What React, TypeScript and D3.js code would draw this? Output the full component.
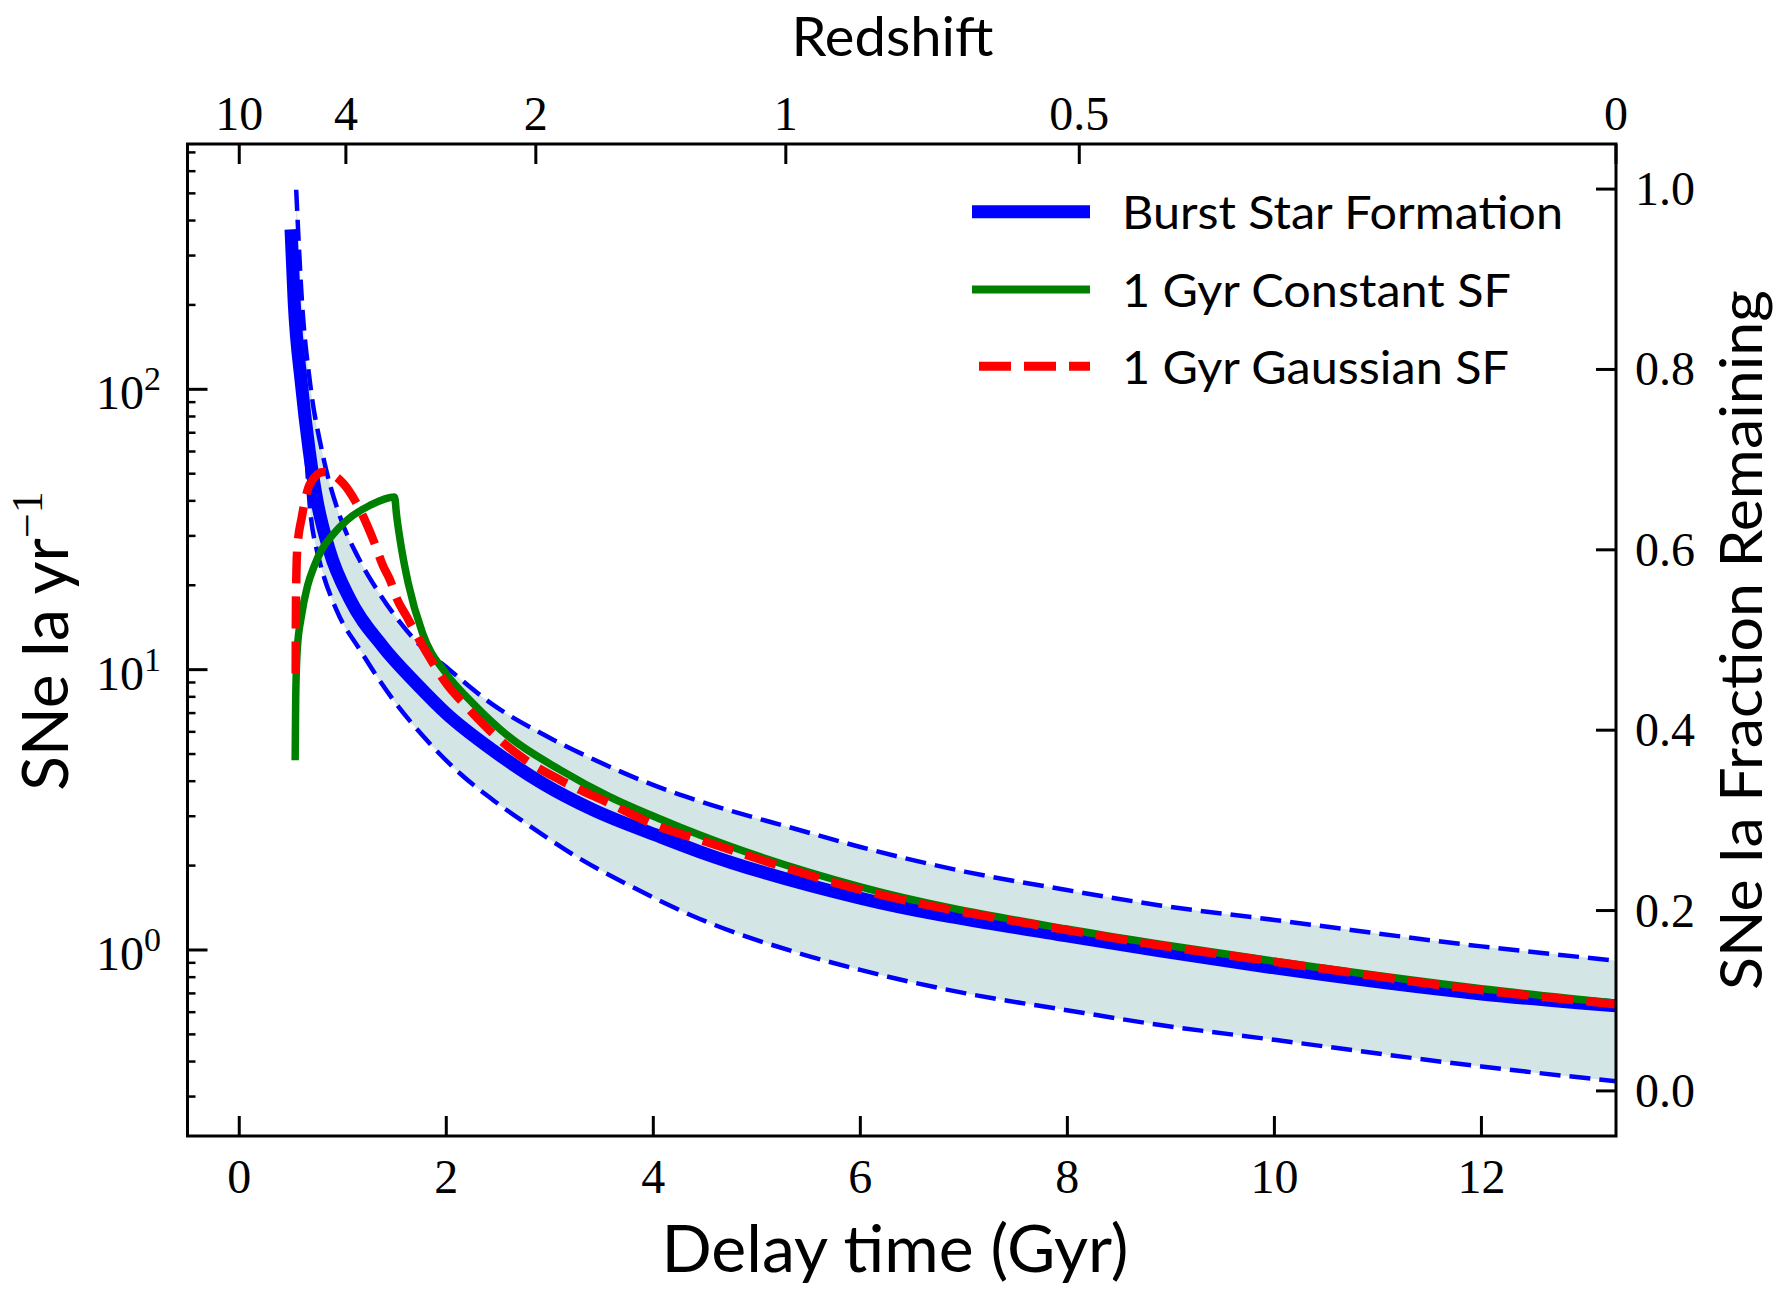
import * as d3 from "d3";

// ---- data ----
// delay time in Gyr, SNe Ia per year

const burstT = [0.5, 0.53, 0.6, 0.675, 0.75, 0.87, 1.07, 1.39, 1.71, 2.0, 2.45, 2.93, 3.42, 4.06, 4.45, 6.0, 7.98, 8.88, 10.0, 12.0, 13.3];
const burstRate = [372, 207, 105, 60.7, 40.2, 26.7, 17.8, 12.05, 8.93, 6.98, 5.16, 3.93, 3.16, 2.54, 2.24, 1.53, 1.125, 0.995, 0.863, 0.697, 0.632];

const upperT = [0.55, 0.605, 0.685, 0.797, 0.974, 1.15, 1.34, 1.55, 1.71, 2.03, 2.45, 2.93, 3.42, 4.06, 4.45, 5.41, 6.0, 7.02, 7.98, 8.88, 10.0, 12.0, 13.3];
const upperRate = [515, 207.5, 104.7, 60.7, 35.1, 25.1, 19.05, 14.8, 12.6, 10.0, 7.5, 5.89, 4.79, 3.8, 3.39, 2.68, 2.33, 1.9, 1.64, 1.445, 1.28, 1.03, 0.916];

const lowerT = [0.55, 0.6, 0.685, 0.749, 0.78, 0.94, 1.167, 1.49, 1.81, 2.13, 2.45, 2.77, 3.26, 3.74, 4.45, 5.41, 6.0, 7.02, 7.98, 8.88, 10.0, 12.0, 13.3];
const lowerRate = [250, 126, 37.1, 26.7, 24.0, 16.3, 11.75, 7.78, 5.61, 4.27, 3.43, 2.83, 2.15, 1.72, 1.29, 0.973, 0.849, 0.7, 0.611, 0.541, 0.478, 0.384, 0.34];

const constT = [0.54, 0.545, 0.56, 0.6, 0.66, 0.72, 0.8, 0.9, 1.04, 1.26, 1.5, 1.52, 1.57, 1.633, 1.77, 2.0, 2.26, 2.61, 3.1, 3.58, 4.06, 4.45, 6.0, 7.98, 8.88, 10.0, 12.0, 13.3];
const constRate = [4.75, 7.76, 11.75, 15.5, 19.95, 23.2, 26.9, 30.2, 34.1, 38.5, 41.3, 35.5, 26.7, 20.3, 13.5, 9.68, 7.57, 5.75, 4.39, 3.52, 2.94, 2.57, 1.68, 1.19, 1.05, 0.912, 0.728, 0.646];

const gaussT = [0.545, 0.548, 0.56, 0.605, 0.685, 0.813, 1.006, 1.167, 1.295, 1.39, 1.456, 1.52, 1.62, 1.81, 2.0, 2.2, 2.45, 2.77, 3.1, 3.58, 4.06, 4.45, 6.0, 7.98, 8.88, 10.0, 12.0, 13.3];
const gaussRate = [9.68, 17.8, 26.9, 35.1, 46.1, 50.7, 46.1, 37.1, 29.0, 23.4, 20.9, 18.0, 15.4, 11.5, 8.93, 7.36, 5.92, 4.75, 4.04, 3.33, 2.75, 2.47, 1.64, 1.18, 1.04, 0.908, 0.719, 0.64];

// axis ticks
const delayTicks = [0, 2, 4, 6, 8, 10, 12];
const redshiftLabels = ["10", "4", "2", "1", "0.5", "0"];
const redshiftDelay = [0.0, 1.03, 2.865, 5.28, 8.115, 13.3];
const fractionTicks = [0, 0.2, 0.4, 0.6, 0.8, 1.0];
const rateDecades = [0, 1, 2];

const legendNames = ["Burst Star Formation", "1 Gyr Constant SF", "1 Gyr Gaussian SF"];

const zip = (t: number[], v: number[]) => t.map((d, i) => [d, v[i]] as [number, number]);

export default function App() {
  const width = 1784;
  const height = 1300;
  const left = 187.5, right = 1616, top = 144, bottom = 1136;

  const x = d3.scaleLinear([-0.5, 13.3], [left, right]);
  const y = d3.scaleLog([0.217, 750], [bottom, top]);
  const yR = d3.scaleLinear([-0.05, 1.05], [bottom, top]);

  const line = d3.line<[number, number]>()
    .x(d => x(d[0]))
    .y(d => y(d[1]))
    .curve(d3.curveMonotoneX);

  const burst = zip(burstT, burstRate);
  const upper = zip(upperT, upperRate);
  const lower = zip(lowerT, lowerRate);
  const constSF = zip(constT, constRate);
  const gaussSF = zip(gaussT, gaussRate);

  // band between the two dashed curves
  const bandPath = (line(upper) || "") + (line(lower.slice().reverse()) || "").replace(/^M/, "L") + "Z";

  // minor log ticks
  const minor: number[] = [];
  for (let e = -1; e <= 2; e++) {
    for (let k = 2; k <= 9; k++) {
      const v = k * Math.pow(10, e);
      if (v > y.domain()[0] && v < y.domain()[1]) minor.push(v);
    }
  }

  const serif = "'Liberation Serif', 'Times New Roman', serif";
  const sans = "Lato, 'Open Sans', sans-serif";
  const tickLen = 20, minorLen = 8, axisW = 3;

  const legendY = [211.7, 289.5, 366.3];
  const legendLen = [441, 389, 387];

  return (
    <svg width={width} height={height} style={{ position: "absolute", left: 0, top: 0, background: "white" }}>
      <defs>
        <clipPath id="plot-area">
          <rect x={left} y={top} width={right - left} height={bottom - top} />
        </clipPath>
      </defs>

      {/* curves */}
      <g clipPath="url(#plot-area)" fill="none" strokeLinejoin="round">
        <path d={bandPath} fill="#d4e5e5" stroke="none" />
        <path d={line(upper) || ""} stroke="#0000ff" strokeWidth={4.5} strokeDasharray="21,9" />
        <path d={line(lower) || ""} stroke="#0000ff" strokeWidth={4.5} strokeDasharray="21,9" />
        <path d={line(burst) || ""} stroke="#0000ff" strokeWidth={13} />
        <path d={line(constSF) || ""} stroke="#008000" strokeWidth={7.5} />
        <path d={line(gaussSF) || ""} stroke="#ff0000" strokeWidth={8.5} strokeDasharray="32,13" />
      </g>

      {/* frame */}
      <rect x={left} y={top} width={right - left} height={bottom - top} fill="none" stroke="black" strokeWidth={axisW} />

      {/* bottom axis */}
      {delayTicks.map(t => (
        <g key={`b${t}`}>
          <line x1={x(t)} x2={x(t)} y1={bottom} y2={bottom - tickLen} stroke="black" strokeWidth={axisW} />
          <text x={x(t)} y={1193} textAnchor="middle" fontFamily={serif} fontSize={48}>{t}</text>
        </g>
      ))}

      {/* top axis (redshift) */}
      {redshiftDelay.map((t, i) => (
        <g key={`t${i}`}>
          <line x1={x(t)} x2={x(t)} y1={top} y2={top + tickLen} stroke="black" strokeWidth={axisW} />
          <text x={x(t)} y={130} textAnchor="middle" fontFamily={serif} fontSize={48}>{redshiftLabels[i]}</text>
        </g>
      ))}

      {/* left axis (log) */}
      {minor.map(v => (
        <line key={`m${v}`} x1={left} x2={left + minorLen} y1={y(v)} y2={y(v)} stroke="black" strokeWidth={axisW - 0.5} />
      ))}
      {rateDecades.map(e => (
        <g key={`l${e}`}>
          <line x1={left} x2={left + tickLen} y1={y(Math.pow(10, e))} y2={y(Math.pow(10, e))} stroke="black" strokeWidth={axisW} />
          <text x={161} y={y(Math.pow(10, e)) + 20} textAnchor="end" fontFamily={serif} fontSize={48}>
            10<tspan dy={-19} fontSize={34}>{e}</tspan>
          </text>
        </g>
      ))}

      {/* right axis (fraction) */}
      {fractionTicks.map(f => (
        <g key={`r${f}`}>
          <line x1={right} x2={right - tickLen} y1={yR(f)} y2={yR(f)} stroke="black" strokeWidth={axisW} />
          <text x={1635} y={yR(f) + 16} fontFamily={serif} fontSize={48}>{f.toFixed(1)}</text>
        </g>
      ))}

      {/* axis labels */}
      <text x={892.5} y={56} textAnchor="middle" fontFamily={sans} fontSize={55}
        textLength={202} lengthAdjust="spacingAndGlyphs">Redshift</text>
      <text x={895} y={1272} textAnchor="middle" fontFamily={sans} fontSize={65}
        textLength={467} lengthAdjust="spacingAndGlyphs">Delay time (Gyr)</text>
      <text transform="translate(68,641) rotate(-90)" textAnchor="middle" fontFamily={sans} fontSize={64}>
        SNe Ia yr<tspan dy={-26} fontFamily={serif} fontSize={44}>−1</tspan>
      </text>
      <text transform="translate(1762,640) rotate(-90)" textAnchor="middle" fontFamily={sans} fontSize={59}
        textLength={700} lengthAdjust="spacingAndGlyphs">SNe Ia Fraction Remaining</text>

      {/* legend */}
      <g>
        <line x1={972} x2={1090} y1={legendY[0]} y2={legendY[0]} stroke="#0000ff" strokeWidth={13} />
        <line x1={972} x2={1090} y1={legendY[1]} y2={legendY[1]} stroke="#008000" strokeWidth={8} />
        <line x1={979} x2={1090} y1={legendY[2]} y2={legendY[2]} stroke="#ff0000" strokeWidth={9} strokeDasharray="32,13" />
        {legendNames.map((name, i) => (
          <text key={name} x={1122} y={legendY[i] + 17.5} fontFamily={sans} fontSize={47}
            textLength={legendLen[i]} lengthAdjust="spacingAndGlyphs">{name}</text>
        ))}
      </g>
    </svg>
  );
}
